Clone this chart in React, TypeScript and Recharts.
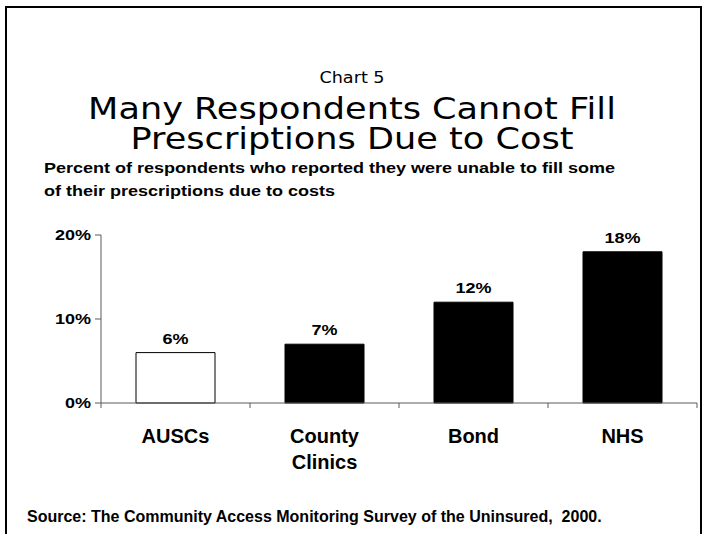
import React from "react";
import { BarChart, Bar, XAxis, YAxis, Cell, LabelList } from "recharts";

const categories = ["AUSCs", "County\nClinics", "Bond", "NHS"];
const percents = [6, 7, 12, 18];
const barFills = ["#ffffff", "#000000", "#000000", "#000000"];
const yTicks = [0, 10, 20];
const titleLines = ["Many Respondents Cannot Fill", "Prescriptions Due to Cost"];

const data = categories.map((name, i) => ({ name, value: percents[i] }));

const AXIS_GREY = "#5a5a5a";
const BOLD = "'Liberation Sans', Arial, sans-serif";
const TITLE = "'DejaVu Sans', Verdana, sans-serif";
const STRETCH = 1.2;

// category labels plus the tick marks on the band edges
function CategoryTick(props: any) {
  const { x, y, payload, index } = props;
  const half = payload && payload.offset ? payload.offset : 0;
  const lines = String(payload.value).split("\n");
  return (
    <g>
      <line x1={x - half} x2={x - half} y1={y} y2={y + 5} stroke={AXIS_GREY} />
      {index === categories.length - 1 && <line x1={x + half} x2={x + half} y1={y} y2={y + 5} stroke={AXIS_GREY} />}
      <text x={x} y={y + 40} textAnchor="middle" fontFamily={BOLD} fontWeight="bold" fontSize={20} fill="#000">
        {lines.map((l, i) => (
          <tspan key={i} x={x} dy={i === 0 ? 0 : 26}>
            {l}
          </tspan>
        ))}
      </text>
    </g>
  );
}

function PercentTick(props: any) {
  const { x, y, payload } = props;
  return (
    <text
      x={0}
      y={0}
      dy="0.355em"
      transform={`translate(${x},${y}) scale(${STRETCH},1)`}
      textAnchor="end"
      fontFamily={BOLD}
      fontWeight="bold"
      fontSize={15}
      fill="#000"
    >
      {`${payload.value}%`}
    </text>
  );
}

function BarValue(props: any) {
  const { x, y, width, value } = props;
  return (
    <text
      x={0}
      y={0}
      transform={`translate(${x + width / 2},${y - 9}) scale(${STRETCH},1)`}
      textAnchor="middle"
      fontFamily={BOLD}
      fontWeight="bold"
      fontSize={15}
      fill="#000"
    >
      {`${value}%`}
    </text>
  );
}

export default function App() {
  return (
    <div style={{ position: "absolute", left: 0, top: 0, width: 704, height: 534, overflow: "hidden", background: "#fff" }}>
      <div
        style={{
          position: "absolute",
          left: 5,
          top: 6,
          width: 693,
          height: 560,
          border: "2px solid #000",
        }}
      />
      <div style={{ position: "absolute", left: 0, width: 704, top: 68, textAlign: "center", fontFamily: TITLE, fontSize: 16, lineHeight: "20px", color: "#000", transform: "scaleX(1.1)" }}>
        Chart 5
      </div>
      {titleLines.map((t, i) => (
        <div
          key={t}
          style={{
            position: "absolute",
            left: 0,
            width: 704,
            top: 94 + i * 30,
            height: 30,
            textAlign: "center",
            fontFamily: TITLE,
            fontSize: 30,
            lineHeight: "30px",
            color: "#000",
            transform: "scaleX(1.17)",
          }}
        >
          {t}
        </div>
      ))}
      <div style={{ position: "absolute", left: 44, top: 156, fontFamily: BOLD, fontWeight: "bold", fontSize: 15, lineHeight: "23px", color: "#000", transform: `scaleX(${STRETCH})`, transformOrigin: "0 0", whiteSpace: "nowrap" }}>
        Percent of respondents who reported they were unable to fill some
        <br />
        of their prescriptions due to costs
      </div>
      <div style={{ position: "absolute", left: 27, top: 508, fontFamily: BOLD, fontWeight: "bold", fontSize: 16, lineHeight: "18px", color: "#000", whiteSpace: "pre" }}>
        Source: The Community Access Monitoring Survey of the Uninsured,  2000.
      </div>
      <div style={{ position: "absolute", left: 0, top: 0 }}>
        <BarChart width={704} height={534} data={data} margin={{ top: 235, right: 7, bottom: 71, left: 41 }} barCategoryGap="23.5%">
          <XAxis
            dataKey="name"
            height={60}
            axisLine={{ stroke: AXIS_GREY }}
            tickLine={false}
            tickSize={0}
            tickMargin={0}
            interval={0}
            tick={<CategoryTick />}
          />
          <YAxis
            domain={[0, 20]}
            ticks={yTicks}
            width={60}
            axisLine={{ stroke: AXIS_GREY }}
            tickLine={{ stroke: AXIS_GREY }}
            tickSize={6}
            tickMargin={4}
            tick={<PercentTick />}
          />
          <Bar dataKey="value" stroke="#000" strokeWidth={1} isAnimationActive={false}>
            {data.map((d, i) => (
              <Cell key={d.name} fill={barFills[i]} />
            ))}
            <LabelList dataKey="value" content={<BarValue />} />
          </Bar>
        </BarChart>
      </div>
    </div>
  );
}
